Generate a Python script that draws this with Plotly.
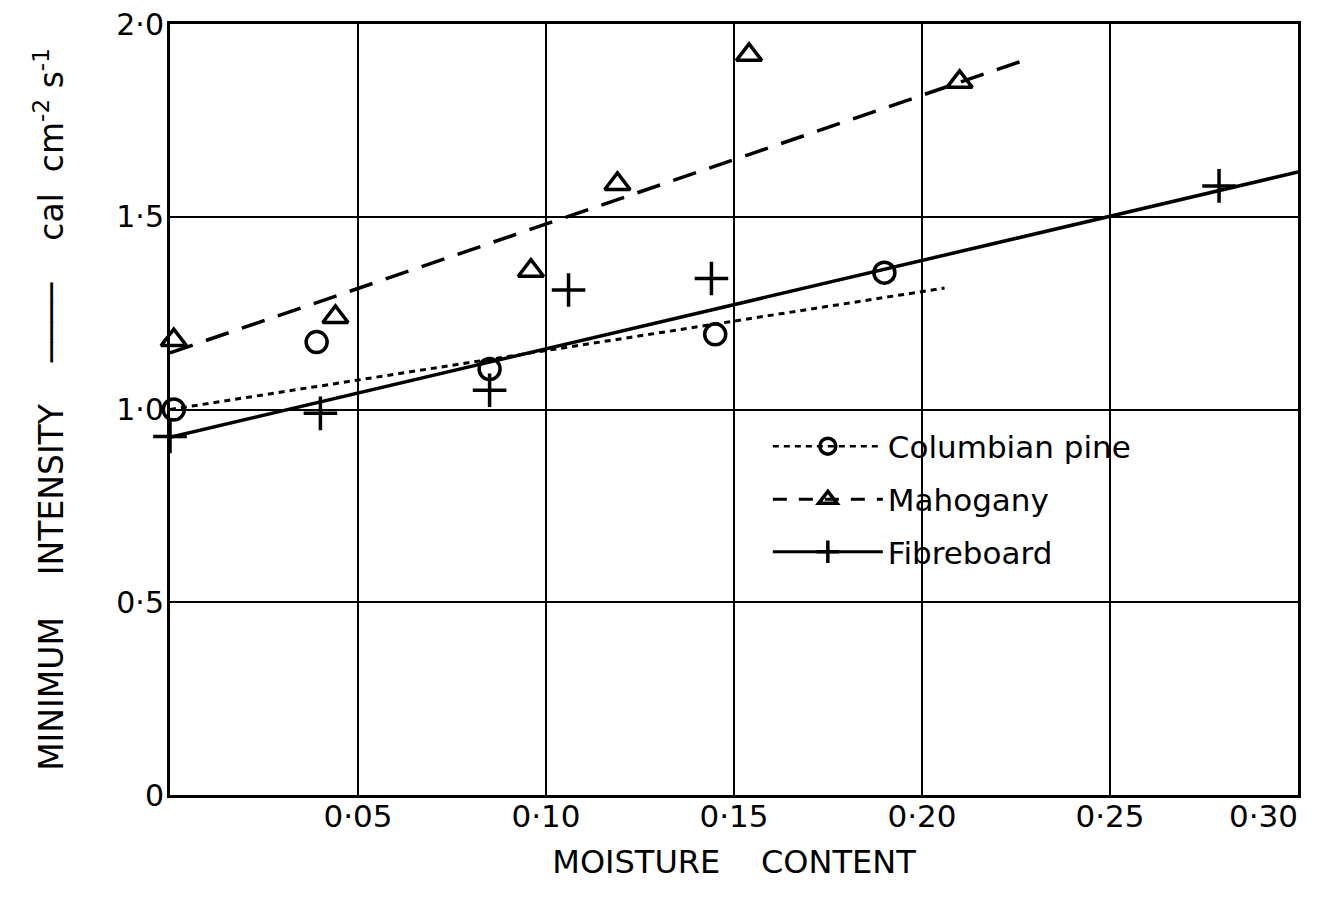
import plotly.graph_objects as go

# ---- data ----
pine_x = [0.001, 0.039, 0.085, 0.145, 0.190]
pine_y = [1.00, 1.175, 1.105, 1.195, 1.355]
pine_fit_x = [0.0, 0.206]
pine_fit_y = [1.00, 1.315]

mah_x = [0.001, 0.044, 0.096, 0.119, 0.154, 0.210]
mah_y = [1.18, 1.24, 1.36, 1.585, 1.92, 1.85]
mah_fit_x = [0.0, 0.229]
mah_fit_y = [1.147, 1.912]

fib_x = [0.0, 0.040, 0.085, 0.106, 0.144, 0.279]
fib_y = [0.93, 0.99, 1.05, 1.31, 1.34, 1.58]
fib_fit_x = [0.0, 0.30]
fib_fit_y = [0.928, 1.616]

x_ticks = [0.05, 0.10, 0.15, 0.20, 0.25]
x_ticktext = ["0·05", "0·10", "0·15", "0·20", "0·25"]
x_end_tick = [0.30]
x_end_ticktext = ["0·30"]
y_ticks = [0, 0.5, 1.0, 1.5, 2.0]
y_ticktext = ["0", "0·5", "1·0", "1·5", "2·0"]

series_names = ["Columbian pine", "Mahogany", "Fibreboard"]

FONT = "DejaVu Sans"
BLACK = "black"

fig = go.Figure()

styles = [
    dict(dash="6px,5px", ldash="6px,5px", width=3, symbol="circle-open", size=21),
    dict(dash="24px,14px", ldash="14px,12px", width=3.5, symbol="triangle-up-open", size=22),
    dict(dash="solid", ldash="solid", width=3.5, symbol="cross-thin-open", size=24),
]
fits = [(pine_fit_x, pine_fit_y), (mah_fit_x, mah_fit_y), (fib_fit_x, fib_fit_y)]
pts = [(pine_x, pine_y), (mah_x, mah_y), (fib_x, fib_y)]
legends = ["legend", "legend2", "legend3"]

for name, st, (fx, fy), (px, py), lg in zip(series_names, styles, fits, pts, legends):
    fig.add_trace(go.Scatter(
        x=fx, y=fy, mode="lines", showlegend=False,
        line=dict(color=BLACK, width=st["width"], dash=st["dash"]),
        cliponaxis=False))
    fig.add_trace(go.Scatter(
        x=px, y=py, mode="markers", showlegend=False,
        marker=dict(symbol=st["symbol"], size=st["size"], color=BLACK,
                    line=dict(color=BLACK, width=3.5)),
        cliponaxis=False))
    # legend entry (no data; placed on the secondary x axis)
    fig.add_trace(go.Scatter(
        x=[None], y=[None], mode="lines+markers", name=name, legend=lg, xaxis="x2",
        line=dict(color=BLACK, width=st["width"] - 0.5, dash=st["ldash"]),
        marker=dict(symbol=st["symbol"], size=st["size"] - 2, color=BLACK,
                    line=dict(color=BLACK, width=3.5))))

leg_common = dict(font=dict(family=FONT, size=31, color=BLACK),
                  bgcolor="rgba(0,0,0,0)", borderwidth=0,
                  xanchor="left", yanchor="middle", itemwidth=110)
fig.update_layout(
    width=1327, height=898,
    margin=dict(l=162, r=37, t=16, b=111),
    paper_bgcolor="white", plot_bgcolor="white",
    font=dict(family=FONT, color=BLACK),
    legend=dict(x=0.53, y=0.452, **leg_common),
    legend2=dict(x=0.53, y=0.383, **leg_common),
    legend3=dict(x=0.53, y=0.315, **leg_common),
    xaxis=dict(range=[0, 0.30], tickvals=x_ticks, ticktext=x_ticktext,
               showgrid=True, gridcolor=BLACK, gridwidth=2,
               showline=True, linecolor=BLACK, linewidth=3, mirror=True,
               zeroline=False, ticks="", tickfont=dict(size=31, family=FONT),
               automargin=False, ticklabeloverflow="allow", ticklabelstandoff=-8,
               title=dict(text="MOISTURE    CONTENT", font=dict(size=32, family=FONT),
                          standoff=18)),
    xaxis2=dict(range=[0, 0.30], overlaying="x", anchor="y", side="bottom",
                tickvals=x_end_tick, ticktext=x_end_ticktext,
                ticklabelposition="outside left",
                showgrid=False, showline=False, zeroline=False, ticks="",
                tickfont=dict(size=31, family=FONT), automargin=False,
                ticklabeloverflow="allow", ticklabelstandoff=0),
    yaxis=dict(range=[0, 2.0], tickvals=y_ticks, ticktext=y_ticktext,
               showgrid=True, gridcolor=BLACK, gridwidth=2,
               showline=True, linecolor=BLACK, linewidth=3, mirror=True,
               zeroline=False, ticks="", tickfont=dict(size=30, family=FONT),
               automargin=False, ticklabelstandoff=-3, ticklabeloverflow="allow",
               title=dict(text="MINIMUM    INTENSITY    ────    cal  cm<sup>-2</sup> s<sup>-1</sup>",
                          font=dict(size=33, family=FONT), standoff=43)),
)

fig.write_html("out.html")
